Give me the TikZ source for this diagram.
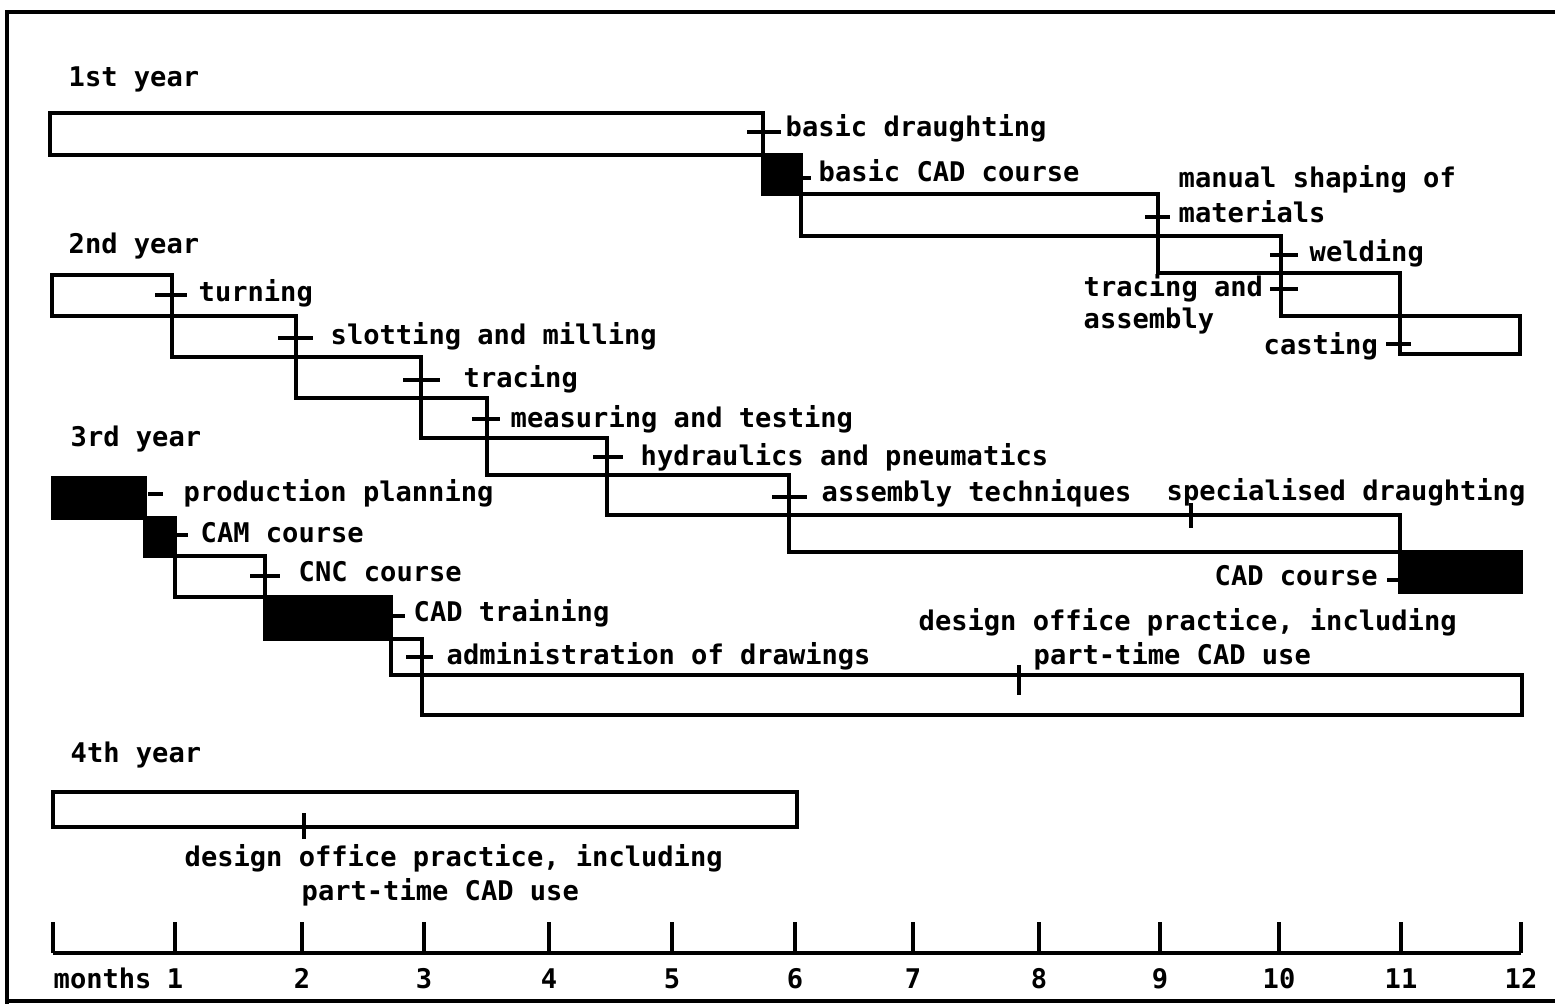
\documentclass[tikz,border=0pt]{standalone}
\usepackage{fontspec}
\setmonofont{DejaVu Sans Mono}
\tikzstyle{stage}=[draw, line width=0.9pt]
\tikzstyle{course}=[stage, fill=black]
\tikzstyle{notch}=[draw, line width=0.9pt]
\tikzstyle{outline}=[draw, line width=1.3pt]
\tikzstyle{txt}=[anchor=base west, inner sep=0pt, font=\labelfont]
\tikzstyle{num}=[anchor=base, inner sep=0pt, font=\labelfont]
\newcommand{\labelfont}{\ttfamily\bfseries\fontsize{7.7}{9.7}\selectfont}
% open block and filled block of one stage
\newcommand{\stage}[4]{\path[stage] (#1,#2) rectangle (#3,#4);}
\newcommand{\course}[4]{\path[course] (#1,#2) rectangle (#3,#4);}
% horizontal dash (x from, x to, y) and vertical notch (x, y from, y to)
\newcommand{\hcross}[3]{\path[notch] (#1,#3) -- (#2,#3);}
\newcommand{\vcross}[3]{\path[notch] (#1,#2) -- (#1,#3);}

\begin{document}
\begin{tikzpicture}[x=0.01cm, y=-0.01cm]
  \useasboundingbox (0,0) rectangle (1555,1004);

  % frame
  \path[outline] (1555,12) -- (7,12) -- (7,1004);
  \path[outline] (7,1001) -- (1555,1001);

  % 1st year
  \node[txt] (y1) at (68,87) {1st year};
  \stage{50}{113}{763}{155}
  \course{763}{155}{801}{194}
  \stage{801}{194}{1158}{236}
  \stage{1158}{236}{1281}{273}
  \stage{1281}{273}{1400}{316}
  \stage{1400}{316}{1520}{354}
  \hcross{747}{781}{132}
  \hcross{801}{811}{178}
  \hcross{1145}{1170}{217}
  \hcross{1270}{1298}{255}
  \hcross{1270}{1298}{289}
  \hcross{1386}{1411}{344}
  \node[txt] (a1) at (785,137) {basic draughting};
  \node[txt] (a2) at (818,182) {basic CAD course};
  \node[txt] (a3) at (1178,188) {manual shaping of};
  \node[txt] (a3b) at (1178,223) {materials};
  \node[txt] (a4) at (1309,262) {welding};
  \node[txt] (a5) at (1083,297) {tracing and};
  \node[txt] (a5b) at (1083,329) {assembly};
  \node[txt] (a6) at (1263,355) {casting};

  % 2nd year
  \node[txt] (y2) at (68,254) {2nd year};
  \stage{52}{275}{172}{316}
  \stage{172}{316}{296}{357}
  \stage{296}{357}{421}{398}
  \stage{421}{398}{487}{438}
  \stage{487}{438}{607}{475}
  \stage{607}{475}{789}{515}
  \stage{789}{515}{1400}{552}
  \course{1400}{552}{1521}{592}
  \hcross{155}{187}{295}
  \hcross{278}{313}{338}
  \hcross{403}{440}{380}
  \hcross{472}{500}{419}
  \hcross{593}{623}{457}
  \hcross{772}{807}{497}
  \vcross{1191}{503}{528}
  \hcross{1387}{1399}{580}
  \node[txt] (b1) at (198,302) {turning};
  \node[txt] (b2) at (330,345) {slotting and milling};
  \node[txt] (b3) at (463,388) {tracing};
  \node[txt] (b4) at (510,428) {measuring and testing};
  \node[txt] (b5) at (640,466) {hydraulics and pneumatics};
  \node[txt] (b6) at (821,502) {assembly techniques};
  \node[txt] (b7) at (1166,501) {specialised draughting};
  \node[txt] (b8) at (1214,586) {CAD course};

  % 3rd year
  \node[txt] (y3) at (70,447) {3rd year};
  \course{53}{478}{145}{518}
  \course{145}{518}{175}{556}
  \stage{175}{556}{265}{597}
  \course{265}{597}{391}{639}
  \stage{391}{639}{422}{675}
  \stage{422}{675}{1522}{715}
  \hcross{148}{163}{494}
  \hcross{177}{188}{535}
  \hcross{250}{280}{576}
  \hcross{392}{405}{616}
  \hcross{406}{433}{657}
  \vcross{1019}{665}{695}
  \node[txt] (c1) at (183,502) {production planning};
  \node[txt] (c2) at (200,543) {CAM course};
  \node[txt] (c3) at (298,582) {CNC course};
  \node[txt] (c4) at (413,622) {CAD training};
  \node[txt] (c5) at (446,665) {administration of drawings};
  \node[txt] (c6) at (918,631) {design office practice, including};
  \node[txt] (c6b) at (1033,665) {part-time CAD use};

  % 4th year
  \node[txt] (y4) at (70,762) {4th year};
  \stage{53}{792}{797}{827}
  \vcross{304}{813}{839}
  \node[txt] (d1) at (184,866) {design office practice, including};
  \node[txt] (d1b) at (301,900) {part-time CAD use};

  % month scale
  \path[notch] (53,953) -- (1521,953);
  \foreach \px/\m in {53/0,175/1,302/2,424/3,549/4,672/5,795/6,913/7,1039/8,1160/9,1279/10,1401/11,1521/12}
    \path[notch] (\px,953) -- (\px,922);
  \node[txt] (months) at (53,988) {months};
  \foreach \px/\m in {175/1,302/2,424/3,549/4,672/5,795/6,913/7,1039/8,1160/9,1279/10,1401/11,1521/12}
    \node[num] (m\m) at (\px,988) {\m};

\end{tikzpicture}
\end{document}
